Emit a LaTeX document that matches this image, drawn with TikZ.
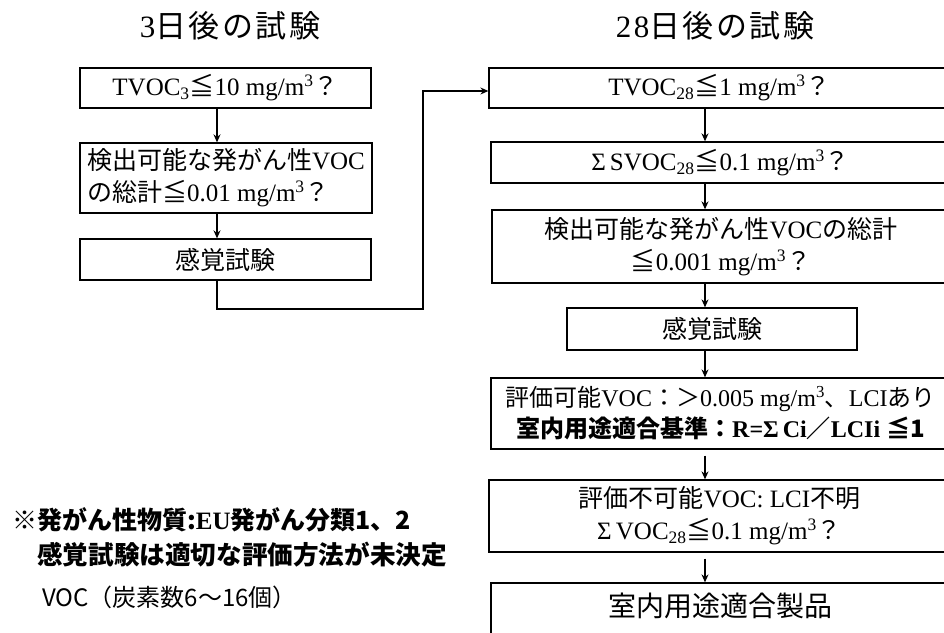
\documentclass[tikz,border=0pt]{standalone}
\usepackage{fontspec}
\setmainfont{Liberation Serif}
\newfontfamily\jp{Noto Sans CJK JP}
\usetikzlibrary{arrows.meta}
\newcommand\J[1]{{\jp #1}}
\begin{document}
\begin{tikzpicture}[x=1pt,y=-1pt,
  box/.style={draw,line width=1.3pt,inner sep=0pt,align=center,font=\fontsize{25}{32}\selectfont},
  arr/.style={line width=1.2pt,-{Stealth[length=8pt,width=7pt]}},
  ttl/.style={font=\fontsize{31}{36}\selectfont\addfontfeature{LetterSpace=8}},
  note/.style={anchor=west,inner sep=0pt},
]
\useasboundingbox (0,0) rectangle (944,632);
\clip (0,0) rectangle (944,632);
\fill[white] (0,0) rectangle (944,632);

% titles
\node[ttl] (t1) at (230,26) {3{\jp\addfontfeature{LetterSpace=8}日後の試験}};
\node[ttl] (t2) at (715,26) {28{\jp\addfontfeature{LetterSpace=8}日後の試験}};

% left column
\node[box,minimum width=291pt,minimum height=40pt] (l1) at (225.5,88)
  {TVOC\textsubscript{3}\J{≦}10 mg/m\textsuperscript{3}\J{？}};
\node[box,minimum width=292pt,minimum height=70pt,align=left] (l2) at (226,178)
  {\J{検出可能な発がん性}VOC\\\J{の総計≦}0.01 mg/m\textsuperscript{3}\J{？}};
\node[box,minimum width=291pt,minimum height=41pt] (l3) at (225.5,259.5)
  {\J{感覚試験}};

% right column
\node[box,minimum width=461pt,minimum height=40pt] (r1) at (719.5,88)
  {TVOC\textsubscript{28}\J{≦}1 mg/m\textsuperscript{3}\J{？}};
\node[box,minimum width=459pt,minimum height=41pt] (r2) at (720.5,162.5)
  {Σ\,SVOC\textsubscript{28}\J{≦}0.1 mg/m\textsuperscript{3}\J{？}};
\node[box,minimum width=458pt,minimum height=73pt] (r3) at (721,246.5)
  {\J{検出可能な発がん性}VOC\J{の総計}\\\J{≦}0.001 mg/m\textsuperscript{3}\J{？}};
\node[box,minimum width=290pt,minimum height=42pt] (r4) at (712,329)
  {\J{感覚試験}};
\node[box,minimum width=459pt,minimum height=71pt,font=\fontsize{24}{31}\selectfont] (r5) at (720.5,413.5)
  {\J{評価可能}VOC\J{：＞}0.005 mg/m\textsuperscript{3}\J{、}LCI\J{あり}\\
   {\bfseries\J{室内用途適合基準：}R=Σ\,Ci\J{／}LCIi \J{≦1}}};
\node[box,minimum width=461pt,minimum height=72pt] (r6) at (719.5,516)
  {\J{評価不可能}VOC: LCI\J{不明}\\Σ\,VOC\textsubscript{28}\J{≦}0.1 mg/m\textsuperscript{3}\J{？}};
\node[box,minimum width=459pt,minimum height=67pt,font=\fontsize{28}{32}\selectfont] (r7) at (720.5,616.5)
  {\raisebox{0pt}[0pt][0pt]{\J{室内用途適合製品}}};

% arrow columns
\coordinate (lx) at (217,0);
\coordinate (ax) at (705,0);
\coordinate (turn) at (423,309);

\draw[arr] (l1.south -| lx) -- (l2.north -| lx);
\draw[arr] (l2.south -| lx) -- (l3.north -| lx);
\draw[arr] (l3.south -| lx) |- (turn) |- ([yshift=-3pt]r1.west);

\draw[arr] (r1.south -| ax) -- (r2.north -| ax);
\draw[arr] (r2.south -| ax) -- (r3.north -| ax);
\draw[arr] (r3.south -| ax) -- (r4.north -| ax);
\draw[arr] (r4.south -| ax) -- (r5.north -| ax);
\draw[arr,shorten <=6pt] (r5.south -| ax) -- (r6.north -| ax);
\draw[arr,shorten <=6pt] (r6.south -| ax) -- (r7.north -| ax);

% notes
\node[note,font=\fontsize{25}{30}\selectfont\jp\bfseries] (n1) at (12,520)
  {※発がん性物質:{\rmfamily\bfseries EU}発がん分類1、2};
\node[note,font=\fontsize{25.6}{30}\selectfont\jp\bfseries] (n2) at (37,555)
  {感覚試験は適切な評価方法が未決定};
\node[note,font=\fontsize{24}{28}\selectfont\jp] (n3) at (42,597)
  {VOC（炭素数6～16個）};
\end{tikzpicture}
\end{document}
